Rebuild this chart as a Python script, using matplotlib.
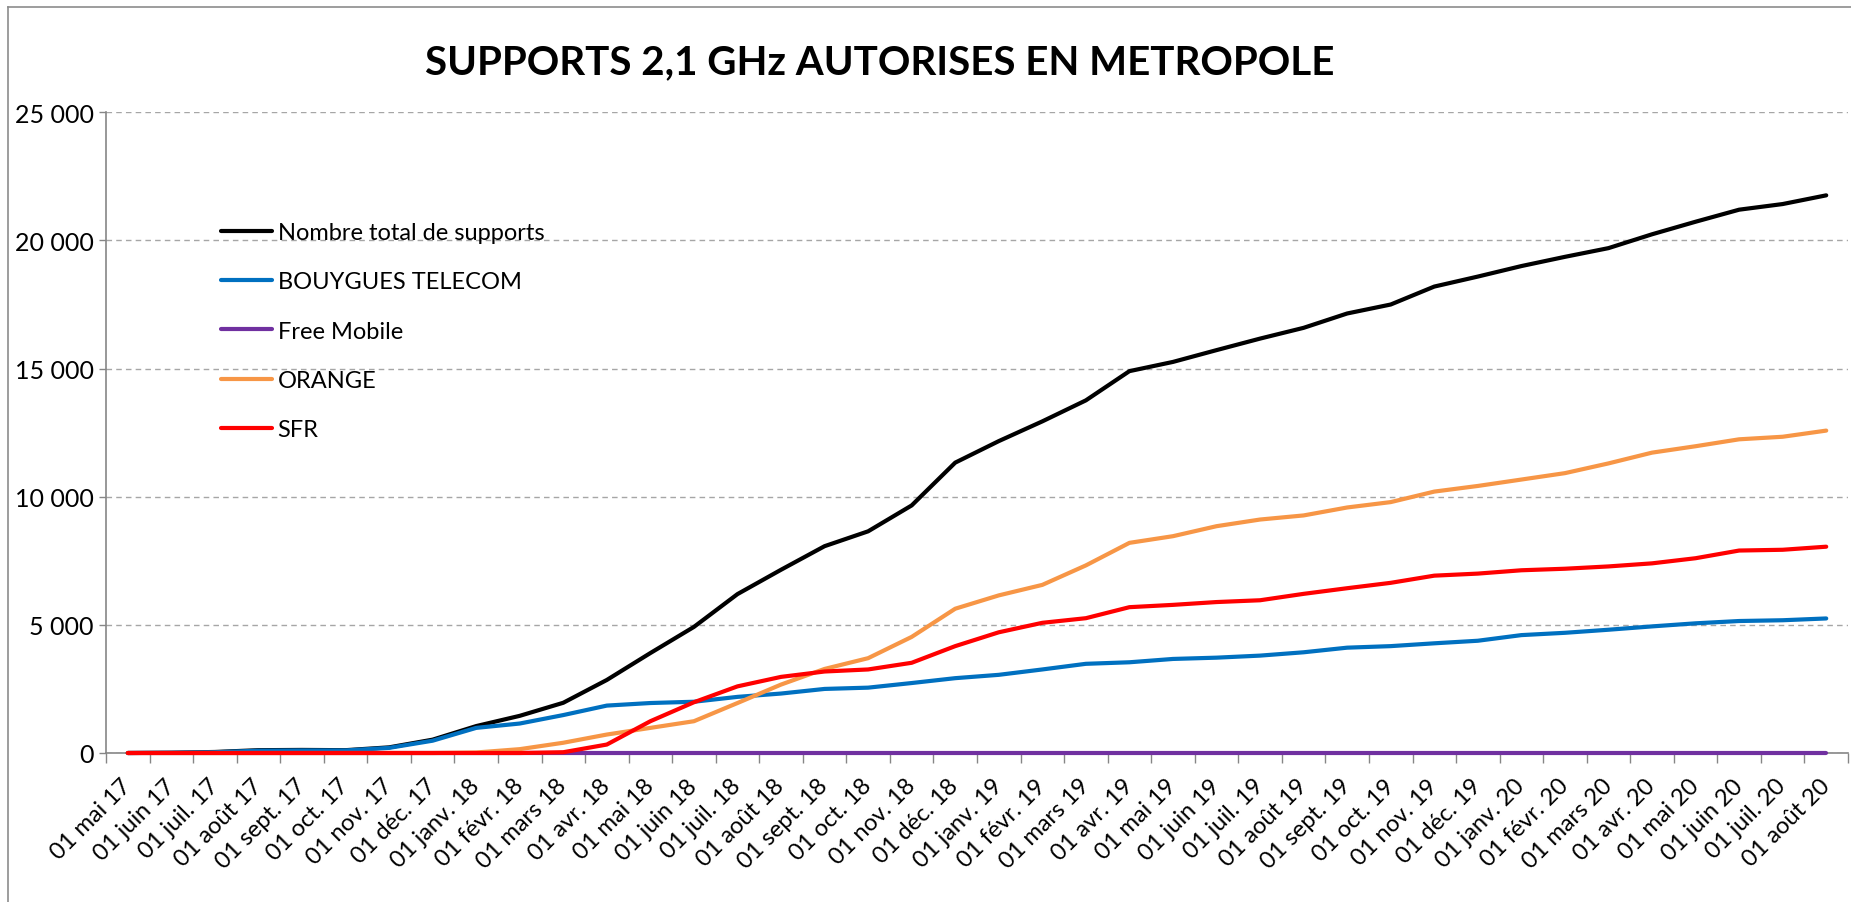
import matplotlib
matplotlib.use("Agg")
import matplotlib.pyplot as plt
from matplotlib.ticker import FuncFormatter, FixedLocator
from matplotlib.lines import Line2D

plt.rcParams['font.family'] = ['Lato', 'DejaVu Sans']

months = ["01 mai 17", "01 juin 17", "01 juil. 17", "01 août 17", "01 sept. 17", "01 oct. 17",
          "01 nov. 17", "01 déc. 17", "01 janv. 18", "01 févr. 18", "01 mars 18", "01 avr. 18",
          "01 mai 18", "01 juin 18", "01 juil. 18", "01 août 18", "01 sept. 18", "01 oct. 18",
          "01 nov. 18", "01 déc. 18", "01 janv. 19", "01 févr. 19", "01 mars 19", "01 avr. 19",
          "01 mai 19", "01 juin 19", "01 juil. 19", "01 août 19", "01 sept. 19", "01 oct. 19",
          "01 nov. 19", "01 déc. 19", "01 janv. 20", "01 févr. 20", "01 mars 20", "01 avr. 20",
          "01 mai 20", "01 juin 20", "01 juil. 20", "01 août 20"]

total = [0, 10, 40, 110, 120, 110, 220, 520, 1050, 1450, 1960, 2850, 3900, 4920, 6200, 7150,
         8070, 8650, 9660, 11330, 12170, 12940, 13760, 14900, 15260, 15720, 16170, 16590,
         17150, 17500, 18200, 18590, 19000, 19360, 19700, 20240, 20730, 21200, 21420, 21760]
bouygues = [0, 10, 30, 90, 100, 100, 200, 480, 980, 1150, 1480, 1850, 1950, 2000, 2190, 2320,
            2500, 2550, 2730, 2920, 3050, 3260, 3480, 3540, 3670, 3720, 3800, 3930, 4110, 4170,
            4280, 4380, 4600, 4690, 4810, 4940, 5060, 5150, 5180, 5250]
free = [0] * 40
orange = [0, 0, 0, 0, 0, 0, 0, 0, 20, 150, 400, 720, 980, 1240, 1950, 2670, 3280, 3700, 4530,
          5630, 6150, 6560, 7320, 8200, 8460, 8850, 9110, 9270, 9580, 9790, 10200, 10420, 10670,
          10920, 11300, 11720, 11970, 12240, 12340, 12580]
sfr = [0, 0, 0, 0, 0, 0, 0, 0, 0, 0, 30, 330, 1240, 1980, 2600, 2970, 3180, 3260, 3520, 4170,
       4710, 5080, 5260, 5690, 5780, 5890, 5960, 6210, 6430, 6640, 6920, 7000, 7130, 7190, 7280,
       7400, 7600, 7900, 7930, 8050]

series = [("Nombre total de supports", total, "#000000"),
          ("BOUYGUES TELECOM", bouygues, "#0070C0"),
          ("Free Mobile", free, "#7030A0"),
          ("ORANGE", orange, "#F79646"),
          ("SFR", sfr, "#FF0000")]

W, H = 1851, 903
fig = plt.figure(figsize=(W / 100, H / 100), dpi=100)
ax = fig.add_axes([106 / W, 1 - 754 / H, (1848 - 106) / W, (754 - 113.3) / H])

x = list(range(len(months)))
for name, vals, col in series:
    ax.plot(x, vals, color=col, lw=3.0, label=name, solid_joinstyle='round',
            solid_capstyle='round', zorder=3, clip_on=False)

ax.set_xlim(-0.5, len(months) - 0.5)
ax.set_ylim(0, 25000)
ax.set_yticks(range(0, 25001, 5000))
ax.yaxis.set_major_formatter(FuncFormatter(lambda v, p: f"{int(v):,}".replace(",", " ")))
ax.grid(axis='y', color='#A6A6A6', linestyle=(0, (4, 3)), lw=1.0)
ax.set_axisbelow(True)

ax.set_xticks(x)
ax.set_xticklabels(months, rotation=45, ha='right', va='center', rotation_mode='anchor')
ax.xaxis.set_minor_locator(FixedLocator([i - 0.5 for i in range(len(months) + 1)]))
ax.tick_params(axis='x', which='major', length=0, pad=21, labelsize=17, colors='#000000')
ax.tick_params(axis='x', which='minor', length=7, width=1, color='#868686', direction='out')
ax.tick_params(axis='y', which='major', length=5, width=1, color='#868686', pad=4, labelsize=18)

for s in ['top', 'right']:
    ax.spines[s].set_visible(False)
for s in ['left', 'bottom']:
    ax.spines[s].set_color('#868686')
    ax.spines[s].set_linewidth(1.2)

leg = ax.legend(loc='upper left', bbox_to_anchor=(221 / W, 1 - 223 / H), bbox_transform=fig.transFigure,
                frameon=False, fontsize=17, handlelength=2.15, handletextpad=0.25,
                labelspacing=1.2, borderpad=0, borderaxespad=0)

fig.text(880 / W, 1 - 63 / H, "SUPPORTS 2,1 GHz AUTORISES EN METROPOLE", ha='center', va='center',
         fontsize=29, fontweight='bold', color='#000000')

fig.add_artist(Line2D([8 / W, 8 / W], [0, 1 - 8 / H], transform=fig.transFigure, color='#8C8C8C', lw=1.2))
fig.add_artist(Line2D([8 / W, 1], [1 - 8 / H, 1 - 8 / H], transform=fig.transFigure, color='#8C8C8C', lw=1.2))

fig.savefig("out.png", dpi=100, facecolor='white')
